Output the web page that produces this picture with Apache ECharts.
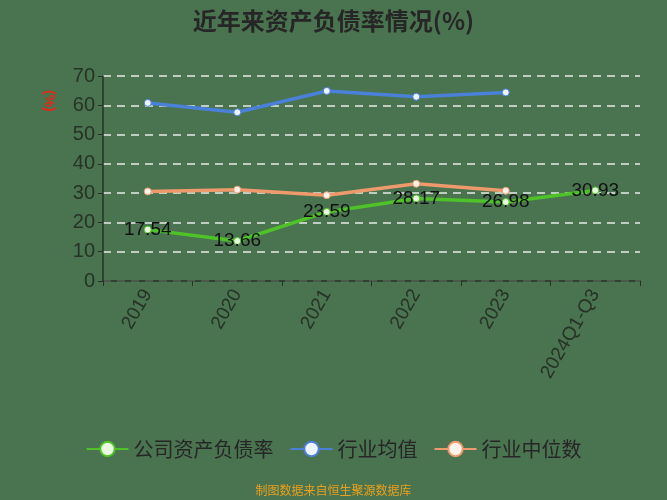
<!DOCTYPE html>
<html><head><meta charset="utf-8">
<script src="https://cdn.jsdelivr.net/npm/echarts@6/dist/echarts.min.js"></script>
<style>html,body{margin:0;padding:0;background:#4a7350;}#c{width:667px;height:500px;}</style>
</head><body><div id="c"></div>
<script>
const categories = ['2019','2020','2021','2022','2023','2024Q1-Q3'];
const companyRate = [17.54, 13.66, 23.59, 28.17, 26.98, 30.93];
const industryAvg = [60.8, 57.6, 64.9, 62.9, 64.4, null];
const industryMedian = [30.6, 31.2, 29.3, 33.2, 30.8, null];
const yTicks = [0, 10, 20, 30, 40, 50, 60, 70];

const chart = echarts.init(document.getElementById('c'));
chart.setOption({
  backgroundColor: '#4a7350',
  animation: false,
  title: {
    text: '近年来资产负债率情况(%)', left: 'center', top: 4,
    textStyle: { fontSize: 24, fontWeight: 'bold', color: '#262626', fontFamily: 'Noto Sans CJK SC' }
  },
  graphic: [
    { type: 'text', left: 42, top: 90, rotation: -Math.PI/2,
      style: { text: '(%)', fill: '#e02a1a', fontSize: 14, fontWeight: 'bold', fontFamily: 'Liberation Sans' } },
    { type: 'text', left: 'center', top: 484,
      style: { text: '制图数据来自恒生聚源数据库', fill: '#e8a020', fontSize: 12, fontFamily: 'Noto Sans CJK SC' } }
  ],
  legend: {
    bottom: 36, left: 'center', itemWidth: 42, itemHeight: 18, itemGap: 16,
    textStyle: { fontSize: 20, color: '#262626', fontFamily: 'Noto Sans CJK SC' },
    data: ['公司资产负债率', '行业均值', '行业中位数']
  },
  grid: { left: 103, right: 27, top: 76, bottom: 219 },
  xAxis: {
    type: 'category', data: categories, boundaryGap: true,
    axisLine: { lineStyle: { color: '#263326', width: 1.5 } },
    axisTick: { show: true, length: 5, lineStyle: { color: '#263326' } },
    axisLabel: { rotate: 60, fontSize: 19, color: '#263326', margin: 10, fontFamily: 'Liberation Sans' }
  },
  yAxis: {
    type: 'value', min: yTicks[0], max: yTicks[yTicks.length-1], interval: 10,
    axisLine: { show: true, lineStyle: { color: '#263326', width: 1.5 } },
    axisTick: { show: true, length: 5, lineStyle: { color: '#263326' } },
    axisLabel: { fontSize: 20, color: '#263326', margin: 8, fontFamily: 'Liberation Sans' },
    splitLine: { lineStyle: { type: [8, 6], color: '#e8ece6', width: 1.5 } }
  },
  series: [
    { name: '公司资产负债率', type: 'line', data: companyRate,
      color: '#4fc22a', lineStyle: { width: 3.5, color: '#4fc22a' },
      symbol: 'circle', symbolSize: 7, itemStyle: { color: '#eaf8e0', borderColor: '#4fc22a', borderWidth: 1 },
      label: { show: true, position: 'inside', fontSize: 19, color: '#111', fontFamily: 'Liberation Sans' }, z: 4 },
    { name: '行业均值', type: 'line', data: industryAvg,
      color: '#4a80d8', lineStyle: { width: 3.5, color: '#4a80d8' },
      symbol: 'circle', symbolSize: 7, itemStyle: { color: '#eef4ff', borderColor: '#4a80d8', borderWidth: 1 }, z: 3 },
    { name: '行业中位数', type: 'line', data: industryMedian,
      color: '#ee9a6c', lineStyle: { width: 3.5, color: '#ee9a6c' },
      symbol: 'circle', symbolSize: 7, itemStyle: { color: '#fff3ec', borderColor: '#ee9a6c', borderWidth: 1 }, z: 3 }
  ]
});
</script></body></html>
